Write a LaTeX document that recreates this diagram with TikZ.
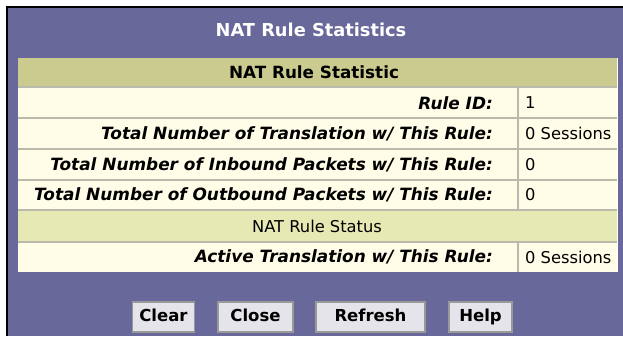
\documentclass[tikz,border=0pt]{standalone}
\usepackage{fontspec}
\setmainfont{DejaVu Sans}
\usepackage{tikz}
\definecolor{panelbg}{RGB}{104,104,154}
\definecolor{headbg}{RGB}{203,203,143}
\definecolor{statbg}{RGB}{230,233,180}
\definecolor{cellbg}{RGB}{255,253,231}
\definecolor{cellline}{RGB}{185,185,172}
\definecolor{btnbg}{RGB}{228,228,234}
\newcommand{\statrow}[4]{% name, y, label, value
  \node[rulelabel] (#1) at (493,#2) {#3};
  \node[rulevalue] (#1v) at (525,#2) {#4};
}
\tikzset{
  rulelabel/.style = {anchor=east, inner sep=0pt,
                      font=\fontsize{16.9bp}{18bp}\selectfont\bfseries\itshape},
  rulevalue/.style = {anchor=west, inner sep=0pt,
                      font=\fontsize{16.3bp}{18bp}\selectfont},
  btn/.style       = {draw=gray!80, fill=btnbg, line width=1.2bp,
                      minimum height=30bp, inner xsep=0pt,
                      text height=11.5bp, text depth=3bp,
                      font=\fontsize{16.5bp}{18bp}\selectfont\bfseries},
  rowline/.style   = {draw=cellline, line width=1.5bp}
}

\begin{document}
\begin{tikzpicture}[x=1bp, y=-1bp]
	\useasboundingbox (0,0) rectangle (623,336);
	\fill[white] (0,0) rectangle (623,336);
	\fill[black] (6,6) rectangle (623,336);
	\fill[panelbg] (8,8) rectangle (623,336);
	\node[text=white, font=\fontsize{17.8bp}{20bp}\selectfont\bfseries] (title) at (311,30) {NAT Rule Statistics};
	% table
	\fill[cellbg] (18,58) rectangle (617,272);
	\fill[headbg] (18,58) rectangle (617,87);
	\fill[statbg] (18,210) rectangle (617,242);
	\foreach \y in {87,118,149,180,210,242}
		\draw[rowline] (18,\y) -- (617,\y);
	\draw[rowline] (518,87) -- (518,210);
	\draw[rowline] (518,242) -- (518,272);
	\draw[white, line width=1bp] (617,58) -- (617,272);
	\node[font=\fontsize{16.8bp}{18bp}\selectfont\bfseries] (head) at (314,72.5) {NAT Rule Statistic};
	\statrow{ruleid}{103}{Rule ID:}{1}
	\statrow{trans}{133.5}{Total Number of Translation w/ This Rule:}{0 Sessions}
	\statrow{inbound}{164.5}{Total Number of Inbound Packets w/ This Rule:}{0}
	\statrow{outbound}{195}{Total Number of Outbound Packets w/ This Rule:}{0}
	\node[font=\fontsize{16.3bp}{18bp}\selectfont] (status) at (317,226) {NAT Rule Status};
	\statrow{active}{257}{Active Translation w/ This Rule:}{0 Sessions}
	% buttons
	\node[btn, minimum width=62bp] (clear) at (163.5,317) {Clear};
	\node[btn, minimum width=75bp] (close) at (255.5,317) {Close};
	\node[btn, minimum width=109bp] (refresh) at (370.5,317) {Refresh};
	\node[btn, minimum width=63bp] (help) at (480.5,317) {Help};
\end{tikzpicture}
\end{document}
